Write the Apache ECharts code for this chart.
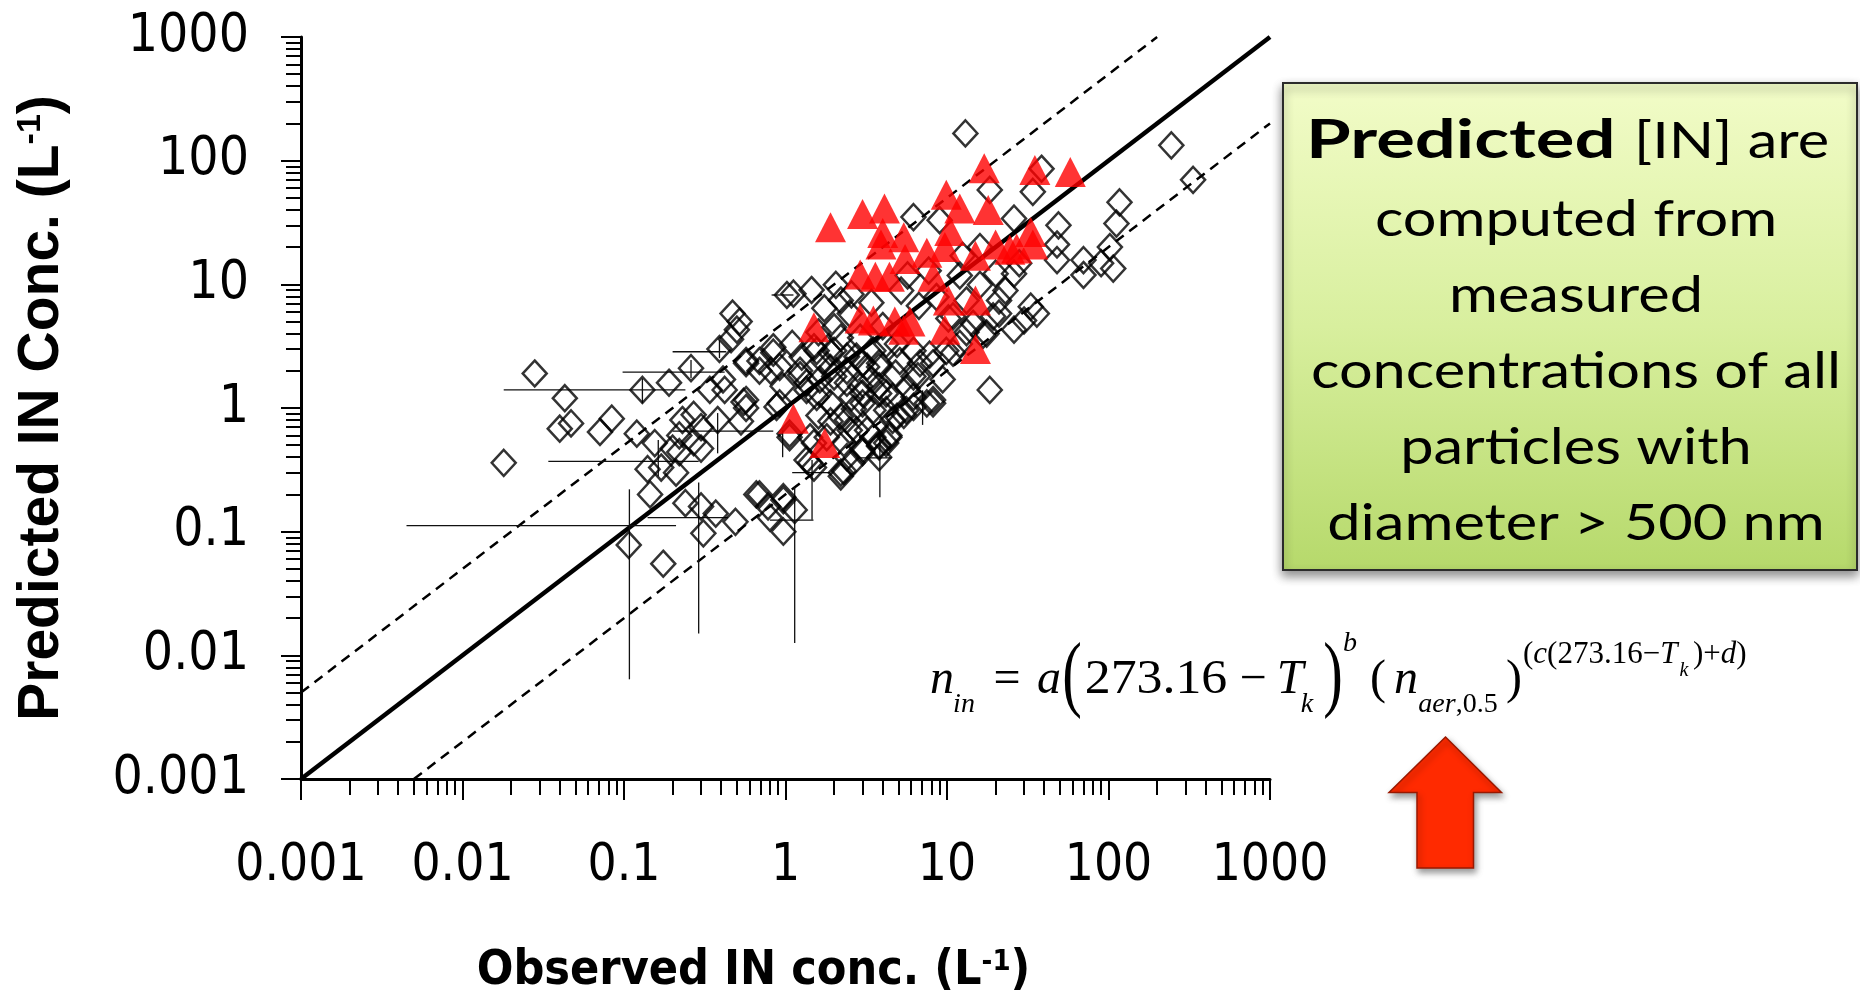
<!DOCTYPE html>
<html><head><meta charset="utf-8">
<script src="https://cdn.jsdelivr.net/npm/echarts@6/dist/echarts.min.js"></script>
<style>html,body{margin:0;padding:0;background:#fff}#c{width:1860px;height:1002px}</style>
</head><body><div id="c"></div>
<script>
// ---------------- data ----------------
const xTickLabels = ['0.001', '0.01', '0.1', '1', '10', '100', '1000'];
const yTickLabels = ['0.001', '0.01', '0.1', '1', '10', '100', '1000'];

const oneToOneLine = [[0.001, 0.001], [1000, 1000]];
const upperFactorLine = [[0.001, 0.005], [200, 1000]];
const lowerFactorLine = [[0.005, 0.001], [1000, 200]];

// observed vs predicted (open diamonds)
const diamondPoints = [
  [0.028,1.9],[0.043,1.2],[0.040,0.68],[0.047,0.75],[0.071,0.64],[0.084,0.82],[0.018,0.36],[0.13,1.4],
  [0.19,1.6],[0.26,2.1],[0.39,3.0],[0.34,1.4],[0.42,1.4],[0.12,0.62],[0.155,0.52],[0.14,0.32],
  [0.17,0.33],[0.20,0.47],[0.23,0.80],[0.27,0.88],[0.30,0.70],[0.22,0.60],[0.27,0.53],[0.30,0.47],
  [0.22,0.44],[0.38,0.80],[0.21,0.30],[0.145,0.20],[0.24,0.17],[0.30,0.16],[0.37,0.14],[0.31,0.097],
  [0.49,0.12],[0.175,0.055],[0.107,0.078],[0.55,1.12],[0.57,1.0],[0.69,0.20],[0.78,0.16],[0.97,0.18],
  [1.14,0.15],[0.80,0.13],[0.97,0.10],[1.06,0.62],[1.5,0.33],[2.2,0.28],[2.6,0.36],[1.5,0.52],
  [3.8,0.50],[4.4,0.58],[3.2,0.66],[2.4,0.80],[0.88,1.02],[0.41,1.7],[1.23,2.0],[1.35,1.6],
  [1.56,1.23],[1.9,1.09],[2.4,1.6],[3.0,1.09],[3.8,1.5],[4.6,1.23],[2.0,2.9],[1.5,3.1],
  [2.75,2.6],[3.8,2.3],[0.84,2.8],[0.57,2.4],[0.69,2.0],
  [0.47,5.8],[0.52,5.0],[0.50,4.3],[0.46,3.6],[1.02,8.2],
  [13,166],[245,133],[334,70],[117,46],[112,31],[102,20],[107,13.4],[70,15.7],
  [70,11.9],[90,14.8],[49,30],[48,21],[48,15.7],[34,56],[18.4,58],[26,34],
  [6.2,35],[9.0,33],[38.5,86],[33,6.6],[36,5.8],[30,5.1],[26,4.3],[21,5.8],
  [18.4,1.4],[16.7,3.9],[10.9,2.8],[8.2,2.3],[6.6,1.8],[8.2,1.09],[6.2,1.02],[5.4,0.88],
  [4.4,0.60],[3.8,0.49],[3.0,0.44],[2.3,0.31],[2.3,0.52],[2.75,0.66],[3.5,0.96],[3.0,1.31],
  [4.2,1.31],[3.8,2.15],[3.0,2.3],[2.4,2.0],[1.9,2.8],[1.63,1.7],[1.35,0.38],[7.8,2.7],
  [10.9,5.5],[13.2,7.4],[21,7.4],[26,12.2],[28,14.8],[20,12.2],[16,20],[1.12,8.4],
  [1.45,9.0],[2.2,7.4],[2.5,5.8],[2.0,4.5],[1.56,2.9],[1.23,1.84],[1.35,1.4],[1.63,1.31],
  [2.0,1.8],[2.4,2.6],[3.2,2.15],[2.9,1.5],[3.8,1.31],[4.2,0.96],[4.9,0.85],[5.6,0.96],
  [6.2,1.23],[7.5,1.09],[6.2,1.8],[6.8,2.3],[9.9,2.9],[12,3.3],[17.6,4.0],[19.3,5.5],
  [14.5,4.8],[5.1,2.4],[4.2,3.3],[3.5,2.9],[1.7,2.4],[0.92,2.15],[0.69,2.4],[0.57,2.3],
  [0.57,1.16],[0.84,3.1],[0.92,1.09],[1.06,0.58],[1.42,0.58],[1.42,0.36],[1.8,0.58],[2.2,0.85],
  [2.5,0.66],[2.4,0.40],[2.2,0.30],[3.0,0.46],[3.5,0.58],[4.2,0.52],[3.8,0.40],[4.6,0.80],
  [8.2,1.16],[0.66,0.20],[0.97,0.19],
  [1.26,2.6],[1.1,3.3],[1.74,6.4],[2.05,9.9],[2.56,8.3],[3.4,7.1],[5.2,8.9],[6.7,6.7],
  [8.6,7.9],[12,11.8],[12.5,17],[7.7,12.9],[5.7,11.8],[23,8.9],[16,9.9],[10.2,5.3],
  [13.2,4.1],[4.9,3.3],[6.2,2.9],[2.2,3.7],[1.6,4.1],[2.9,3.7],[4.0,4.6],[0.96,1.5],
  [0.81,2.0],[1.9,0.78],[2.65,0.98],[1.6,0.87],[5.7,1.45],[9.4,1.7],[4.8,1.9],[1.9,2.1],
  [3.4,1.7],[2.56,1.22],[0.53,0.78]
];

// red filled triangles
const trianglePoints = [
  [1.9,29],[3.0,37],[4.1,41],[4.0,26],[3.9,21],[5.4,24],[5.5,16],[7.5,18],
  [9.9,53],[12,41],[17,87],[35,84],[58,81],[18,40],[10.4,27],[9.7,20],
  [15,17],[20,21],[24.5,19],[27,19.5],[33,26.5],[34,21],[2.9,12],[3.6,11.5],
  [4.4,11.5],[8.2,11.5],[10.2,7.4],[15,7.4],[1.5,4.5],[2.9,5.3],[3.5,5.1],[4.75,5.0],
  [5.9,5.0],[5.4,4.3],[9.7,4.3],[15,3.0],[1.12,0.82],[1.75,0.52]
];

// error bars: [x, y, xLow, xHigh, yLow, yHigh]
const errorBars = [
  [0.13,1.4,0.018,0.24,1.09,1.73],
  [0.26,1.95,0.098,0.42,1.74,2.44],
  [0.39,2.85,0.20,0.43,2.53,3.53],
  [0.14,0.37,0.034,0.29,0.37,0.37],
  [0.108,0.112,0.0045,0.21,0.0064,0.22],
  [0.38,0.65,0.20,0.84,0.43,0.91],
  [0.29,0.13,0.14,0.44,0.015,0.25],
  [1.46,0.30,1.10,1.89,0.125,0.38],
  [1.14,0.124,0.80,1.49,0.0126,0.23],
  [0.163,0.395,0.163,0.163,0.28,0.55],
  [3.84,0.395,2.8,4.55,0.19,0.63],
  [0.96,0.54,0.96,0.96,0.40,0.66],
  [7.06,1.02,7.06,7.06,0.73,1.39],
  [1.02,8.2,0.82,1.12,8.2,8.2]
];

// ---------------- chart ----------------
const NARROW = "'Liberation Sans Narrow','Arial Narrow','DejaVu Sans Condensed',sans-serif";
const SERIF = "'Liberation Serif','Times New Roman',serif";
const BOXFONT = "Lato,'Open Sans',sans-serif";

function tickFmt(labels) {
  return function (v) {
    const i = Math.round(Math.log10(v)) + 3;
    return labels[i] !== undefined ? labels[i] : '';
  };
}

const chart = echarts.init(document.getElementById('c'), null, {renderer: 'canvas'});

const axisCommon = {
  type: 'log', logBase: 10, min: 0.001, max: 1000,
  axisLine: {show: true, onZero: false, lineStyle: {color: '#000', width: 3}},
  splitLine: {show: false}, minorSplitLine: {show: false}
};

function ftext(x, y, text, fs, opts) {
  opts = opts || {};
  return {
    type: 'text', x: x, y: y, scaleX: opts.scaleX || 1, silent: true, z: 100,
    style: Object.assign({
      x: 0, y: 0, text: text,
      font: (opts.italic ? 'italic ' : '') + fs + 'px ' + SERIF,
      fill: '#000', align: opts.align || 'center', verticalAlign: 'middle'
    }, opts.rich ? {rich: opts.rich} : {})
  };
}
function mid(baseline, fs) { return baseline - 0.3375 * fs; }

const supRich = {
  r: {fontFamily: SERIF, fontSize: 31, fontStyle: 'normal', fill: '#000'},
  i: {fontFamily: SERIF, fontSize: 31, fontStyle: 'italic', fill: '#000'}
};
const subRich = {
  r: {fontFamily: SERIF, fontSize: 28, fontStyle: 'normal', fill: '#000'},
  i: {fontFamily: SERIF, fontSize: 28, fontStyle: 'italic', fill: '#000'}
};

function boxText(x, baseline, text, opts) {
  const fs = opts.fontSize;
  return {
    type: 'text', x: x, y: baseline - 0.387 * fs, scaleX: opts.scaleX, silent: true, z: 95,
    style: {
      x: 0, y: 0, text: text,
      font: (opts.weight || 'normal') + ' ' + fs + 'px ' + BOXFONT,
      fill: '#000', align: opts.align || 'center', verticalAlign: 'middle'
    }
  };
}

const boxLines = [
  'computed from',
  'measured',
  'concentrations of all',
  'particles with',
  'diameter > 500 nm'
];
const boxLineBaselines = [239, 315, 391, 467, 543];

const graphics = [
  {
    type: 'rect', z: 90, silent: true,
    shape: {x: 1283, y: 83, width: 574, height: 487},
    style: {
      fill: new echarts.graphic.LinearGradient(0, 0, 0, 1, [
        {offset: 0, color: '#f2fcc8'},
        {offset: 0.5, color: '#d8ef9e'},
        {offset: 1, color: '#b6d96b'}
      ]),
      stroke: '#2b2b2b', lineWidth: 2,
      shadowBlur: 10, shadowOffsetX: 0, shadowOffsetY: 5, shadowColor: 'rgba(0,0,0,0.45)'
    }
  },
  boxText(1306, 161, 'Predicted', {fontSize: 54, weight: 'bold', scaleX: 1.34, align: 'left'}),
  boxText(1634, 161, '[IN] are', {fontSize: 50, scaleX: 1.19, align: 'left'})
];
boxLines.forEach(function (t, i) {
  graphics.push(boxText(1576, boxLineBaselines[i], t, {fontSize: 50, scaleX: 1.19}));
});

// formula  n_in = a(273.16 - T_k)^b (n_aer,0.5)^(c(273.16-T_k)+d)
graphics.push(
  ftext(942, mid(697, 48), 'n', 48, {italic: true}),
  ftext(964, mid(714, 28), 'in', 28, {italic: true}),
  ftext(1007, mid(697, 48), '=', 48),
  ftext(1049, mid(697, 48), 'a', 48, {italic: true}),
  ftext(1072, 679, '(', 84, {scaleX: 0.7}),
  ftext(1156, mid(697, 48), '273.16', 48, {scaleX: 1.08}),
  ftext(1253, mid(697, 48), '\u2212', 48),
  ftext(1290, mid(697, 48), 'T', 48, {italic: true}),
  ftext(1307, mid(714, 28), 'k', 28, {italic: true}),
  ftext(1333, 679, ')', 84, {scaleX: 0.7}),
  ftext(1350, mid(653, 28), 'b', 28, {italic: true}),
  ftext(1378, mid(697, 48), '(', 48),
  ftext(1406, mid(697, 48), 'n', 48, {italic: true}),
  ftext(1458, mid(714, 28), '{i|aer}{r|,0.5}', 28, {rich: subRich}),
  ftext(1514, mid(697, 48), ')', 48),
  ftext(1523, mid(665, 31), '{r|(}{i|c}{r|(273.16\u2212}{i|T}', 31, {rich: supRich, align: 'left'}),
  ftext(1684, mid(677, 20), 'k', 20, {italic: true}),
  ftext(1693, mid(665, 31), '{r|)+}{i|d}{r|)}', 31, {rich: supRich, align: 'left'})
);

// red up arrow
graphics.push({
  type: 'polygon', z: 90, silent: true,
  shape: {points: [[1445.5, 737], [1501.5, 792.5], [1473.5, 792.5], [1473.5, 868], [1417, 868], [1417, 792.5], [1389, 792.5]]},
  style: {
    fill: '#ff2a00', stroke: '#9a1800', lineWidth: 1.5,
    shadowBlur: 6, shadowOffsetX: 2, shadowOffsetY: 4, shadowColor: 'rgba(0,0,0,0.4)'
  }
});

const option = {
  animation: false,
  backgroundColor: '#fff',
  grid: {left: 301, top: 37, right: 590, bottom: 223, containLabel: false, outerBoundsMode: 'none'},
  xAxis: Object.assign({}, axisCommon, {
    axisTick: {show: true, length: 21, lineStyle: {color: '#000', width: 2}},
    minorTick: {show: true, splitNumber: 9, length: 16, lineStyle: {color: '#000', width: 2}},
    axisLabel: {
      formatter: tickFmt(xTickLabels), fontFamily: NARROW, fontSize: 51, color: '#000', margin: 62,
      showMinLabel: true, showMaxLabel: true, interval: 0, hideOverlap: false
    },
    name: '{t|Observed IN conc. (L}{s|-1}{t|)}',
    nameLocation: 'middle', nameGap: 169,
    nameTextStyle: {
      padding: [0, 64, 0, 0],
      rich: {
        t: {fontFamily: NARROW, fontWeight: 'bold', fontSize: 48, lineHeight: 48, color: '#000'},
        s: {fontFamily: NARROW, fontWeight: 'bold', fontSize: 29, lineHeight: 29, color: '#000', verticalAlign: 'top'}
      }
    }
  }),
  yAxis: Object.assign({}, axisCommon, {
    axisTick: {show: true, length: 20, lineStyle: {color: '#000', width: 2}},
    minorTick: {show: true, splitNumber: 9, length: 15, lineStyle: {color: '#000', width: 2}},
    axisLabel: {
      formatter: tickFmt(yTickLabels), fontFamily: NARROW, fontSize: 53, color: '#000', margin: 52,
      showMinLabel: true, showMaxLabel: true, interval: 0, hideOverlap: false
    },
    name: '{t|Predicted IN Conc. (L}{s|-1}{t|)}',
    nameLocation: 'middle', nameGap: 230, nameRotate: 90,
    nameTextStyle: {
      rich: {
        t: {fontFamily: "'Liberation Sans',Arial,sans-serif", fontWeight: 'bold', fontSize: 57, lineHeight: 57, color: '#000'},
        s: {fontFamily: "'Liberation Sans',Arial,sans-serif", fontWeight: 'bold', fontSize: 34, lineHeight: 34, color: '#000', verticalAlign: 'top'}
      }
    }
  }),
  series: [
    {type: 'line', data: oneToOneLine, symbol: 'none', silent: true, z: 2,
     lineStyle: {color: '#000', width: 4.5}},
    {type: 'line', data: upperFactorLine, symbol: 'none', silent: true, z: 2,
     lineStyle: {color: '#000', width: 2.5, type: [10, 7]}},
    {type: 'line', data: lowerFactorLine, symbol: 'none', silent: true, z: 2,
     lineStyle: {color: '#000', width: 2.5, type: [10, 7]}},
    {type: 'custom', data: errorBars, silent: true, z: 3,
     encode: {x: 0, y: 1},
     renderItem: function (params, api) {
       const cy = api.value(1), cx = api.value(0);
       const xlo = api.value(2), xhi = api.value(3), ylo = api.value(4), yhi = api.value(5);
       const children = [];
       if (xhi > xlo) {
         const a = api.coord([xlo, cy]), b = api.coord([xhi, cy]);
         children.push({type: 'line', shape: {x1: a[0], y1: a[1], x2: b[0], y2: b[1]}, style: {stroke: '#111', lineWidth: 1.3}});
       }
       if (yhi > ylo) {
         const a = api.coord([cx, ylo]), b = api.coord([cx, yhi]);
         children.push({type: 'line', shape: {x1: a[0], y1: a[1], x2: b[0], y2: b[1]}, style: {stroke: '#111', lineWidth: 1.3}});
       }
       return {type: 'group', children: children};
     }},
    {type: 'scatter', data: diamondPoints, symbol: 'diamond', symbolSize: [24, 26], silent: true, z: 4,
     itemStyle: {color: 'rgba(0,0,0,0)', borderColor: '#000', borderWidth: 2.5}},
    {type: 'scatter', data: trianglePoints, symbol: 'triangle', symbolSize: [31, 30], silent: true, z: 5,
     itemStyle: {color: '#ff0000', borderWidth: 0}}
  ],
  graphic: graphics
};
chart.setOption(option);
</script>
</body></html>
